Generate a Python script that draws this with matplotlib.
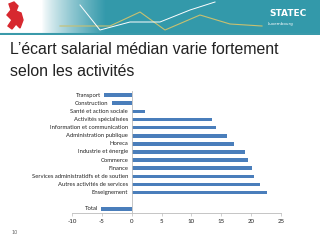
import numpy as np
import matplotlib
matplotlib.use('Agg')
import matplotlib.pyplot as plt
from matplotlib.patches import Polygon

# données (écart salarial médian, %)
categories = ['Transport', 'Construction', 'Santé et action sociale', 'Activités spécialisées',
              'Information et communication', 'Administration publique', 'Horeca',
              'Industrie et énergie', 'Commerce', 'Finance',
              'Services administratidfs et de soutien', 'Autres activités de services',
              'Enseignement', '', 'Total']
values = [-4.6, -3.3, 2.2, 13.4, 14.1, 16.0, 17.2, 19.0, 19.5, 20.1, 20.4, 21.4, 22.7, np.nan, -5.1]
xticks = [-10, -5, 0, 5, 10, 15, 20, 25]

bar_color = '#4a7ebb'

fig = plt.figure(figsize=(3.2, 2.4), dpi=100)
fig.patch.set_facecolor('white')

# bandeau en haut
ban = fig.add_axes([0, 1 - 35 / 240, 1, 35 / 240])
grad = np.linspace(0, 1, 320)
grad = np.clip((grad - 0.13) / 0.2, 0, 1) ** 0.8
teal = np.array([0.20, 0.60, 0.67])
img = np.ones((1, 320, 3)) * (1 - grad[None, :, None]) + teal * grad[None, :, None]
ban.imshow(img, aspect='auto', extent=[0, 320, 35, 0])
ban.plot([60, 110, 140, 165, 200, 230, 262], [26, 26, 12, 30, 15, 24, 26], color='#c8c070', lw=0.8)
ban.plot([80, 100, 130, 160, 190, 215], [5, 30, 22, 22, 10, 2], color='white', lw=0.7)
ban.axhline(33.5, color='#3a9aaa', lw=1.5)
# lion (rouge)
lion = Polygon([[9, 4], [14, 2], [18, 6], [16, 11], [21, 13], [23, 20], [20, 28], [16, 24],
                [12, 29], [8, 26], [12, 20], [7, 15], [11, 10]], closed=True, color='#d7282f')
ban.add_patch(lion)
ban.text(288, 14, 'STATEC', color='white', fontsize=6.5, fontweight='bold', ha='center', va='center',
         family='DejaVu Sans')
ban.text(268, 24.5, 'Luxembourg', color='white', fontsize=3, ha='left', va='center')
ban.set_xlim(0, 320)
ban.set_ylim(35, 0)
ban.axis('off')

# titre
fig.text(10 / 320, 1 - 50 / 240, 'L’écart salarial médian varie fortement', fontsize=11.4,
         family='Liberation Sans', color='#222222', va='center')
fig.text(10 / 320, 1 - 72 / 240, 'selon les activités', fontsize=11.4,
         family='Liberation Sans', color='#222222', va='center')
fig.text(15 / 320, 1 - 232 / 240, '10', fontsize=3.5, color='#666666', ha='center', va='center')

# graphique
ax = fig.add_axes([72 / 320, 1 - 213 / 240, 209 / 320, 122 / 240])
y = np.arange(len(categories))
ax.barh(y, values, height=0.45, color=bar_color)
for yi, lab, v in zip(y, categories, values):
    if lab == '':
        continue
    ax.text(min(v, 0) - 0.6, yi, lab, ha='right', va='center', fontsize=4.2,
            family='Lato', color='#222222')
ax.axvline(0, color='#bbbbbb', lw=0.6)
ax.set_xlim(-10, 25)
ax.set_ylim(len(categories) - 0.5, -0.5)
ax.set_xticks(xticks)
ax.set_xticklabels([str(t) for t in xticks], fontsize=4.4, family='Lato', color='#222222')
ax.set_yticks([])
for s in ['top', 'right', 'left']:
    ax.spines[s].set_visible(False)
ax.spines['bottom'].set_color('#bbbbbb')
ax.spines['bottom'].set_linewidth(0.6)
ax.tick_params(axis='x', length=2, width=0.5, color='#bbbbbb', pad=2)
ax.patch.set_alpha(0)

fig.savefig('out.png', dpi=100)
